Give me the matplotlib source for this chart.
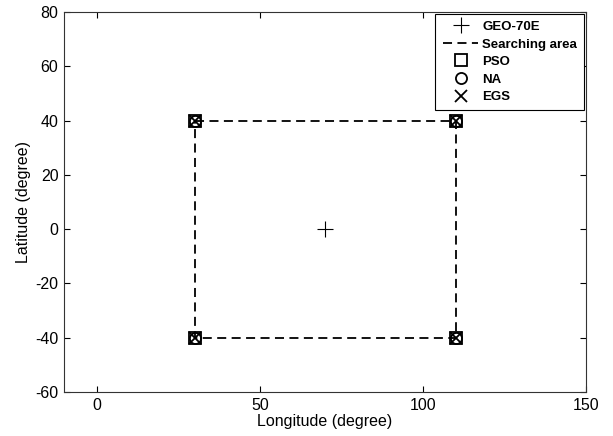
import matplotlib
matplotlib.use('Agg')
import matplotlib.pyplot as plt

plt.rcParams['font.family'] = ['Liberation Sans', 'DejaVu Sans']
plt.rcParams['axes.unicode_minus'] = False

# data
geo_lon = [70]
geo_lat = [0]
area_lon = [30, 110, 110, 30, 30]
area_lat = [40, 40, -40, -40, 40]
corner_lon = [30, 110, 110, 30]
corner_lat = [40, 40, -40, -40]
xticks = [0, 50, 100, 150]
yticks = [-60, -40, -20, 0, 20, 40, 60, 80]

fig = plt.figure(figsize=(6.13, 4.36), dpi=100)
ax = fig.add_axes([0.1044, 0.1009, 0.8516, 0.8716])

ax.plot(geo_lon, geo_lat, '+', color='k', markersize=11, markeredgewidth=0.8, label='GEO-70E')
ax.plot(area_lon, area_lat, '--', color='k', linewidth=1.3, dashes=(5, 3), label='Searching area')
ax.plot(corner_lon, corner_lat, 's', color='k', markerfacecolor='none', markersize=9, markeredgewidth=1.3, label='PSO')
ax.plot(corner_lon, corner_lat, 'o', color='k', markerfacecolor='none', markersize=8, markeredgewidth=1.3, label='NA')
ax.plot(corner_lon, corner_lat, 'x', color='k', markersize=8, markeredgewidth=1.3, label='EGS')

ax.set_xlim(-10, 150)
ax.set_ylim(-60, 80)
ax.set_xticks(xticks)
ax.set_yticks(yticks)
ax.tick_params(direction='in', top=True, right=True, length=4, labelsize=11.5, width=0.8, pad=4)
for s in ax.spines.values():
    s.set_linewidth(0.8)
    s.set_color('#333333')
ax.set_xlabel('Longitude (degree)', fontsize=11.5, labelpad=1)
ax.set_ylabel('Latitude (degree)', fontsize=11.5, labelpad=3)

leg = ax.legend(loc='upper right', bbox_to_anchor=(1, 1), borderaxespad=0.12,
                fancybox=False, edgecolor='k', framealpha=1,
                prop={'size': 9.5, 'weight': 'bold'}, handlelength=2.7,
                handletextpad=0.3, labelspacing=0.4, borderpad=0.55)
leg.get_frame().set_linewidth(0.8)

fig.savefig('out.png', dpi=100)
